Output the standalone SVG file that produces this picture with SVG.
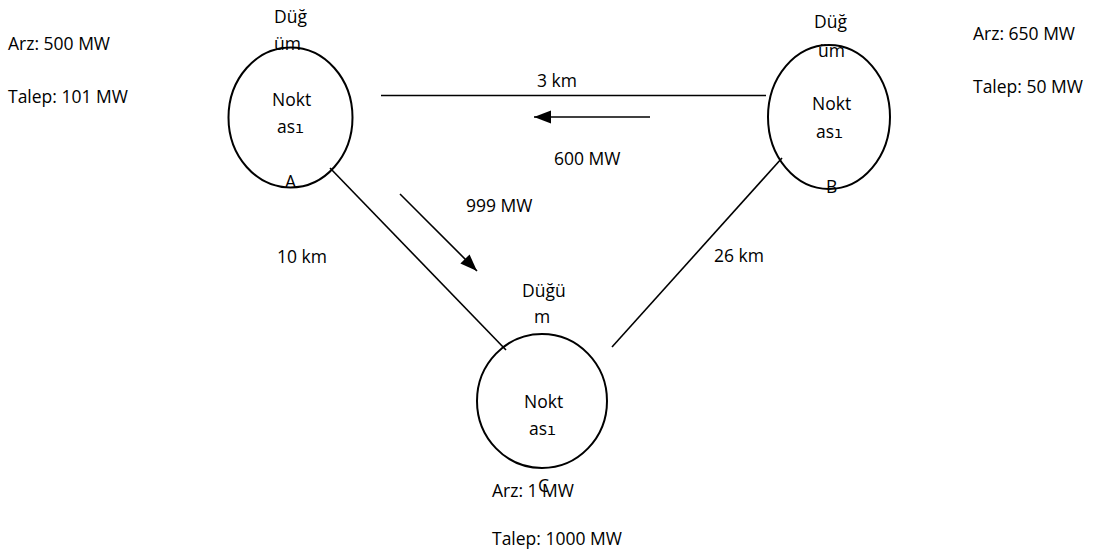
<svg xmlns="http://www.w3.org/2000/svg" width="1093" height="554" viewBox="0 0 1093 554">
<style>
text{font-family:"Open Sans","Liberation Sans",sans-serif;font-size:17.5px;fill:#000}
.m{font-family:"DejaVu Sans Mono",monospace;font-size:15px}
.node ellipse{fill:none;stroke:#000;stroke-width:2}
.edge{stroke:#000;stroke-width:1.6;fill:none}
</style>
<defs>
<marker id="ah" markerUnits="userSpaceOnUse" markerWidth="18" markerHeight="14" refX="17" refY="6.5" orient="auto">
<path d="M0,0 L17,6.5 L0,13 Z" fill="#000"/>
</marker>
</defs>
<rect width="1093" height="554" fill="#fff"/>
<g id="connectors">
<line class="edge" x1="381" y1="95.5" x2="766" y2="95.5"/>
<line class="edge" x1="330" y1="168" x2="506" y2="350"/>
<line class="edge" x1="782" y1="158" x2="612" y2="347"/>
<line class="edge" x1="650" y1="117" x2="534" y2="117" marker-end="url(#ah)"/>
<line class="edge" x1="400" y1="194" x2="477" y2="271" marker-end="url(#ah)"/>
</g>
<g id="labels">
<text x="537" y="87">3 km</text>
<text x="554" y="165">600 MW</text>
<text x="466" y="212">999 MW</text>
<text x="277" y="263">10 km</text>
<text x="714" y="262">26 km</text>
<text x="8" y="50">Arz: 500 MW</text>
<text x="8" y="103">Talep: 101 MW</text>
<text x="973" y="40">Arz: 650 MW</text>
<text x="973" y="93">Talep: 50 MW</text>
<text x="492" y="497">Arz: 1 MW</text>
<text x="492" y="545">Talep: 1000 MW</text>
</g>
<g id="node-A" class="node">
<ellipse cx="290.5" cy="117.5" rx="62" ry="70"/>
<text x="274" y="23">Düğ</text>
<text x="274" y="50">üm</text>
<text x="272" y="106">Nokt</text>
<text x="277" y="133">as<tspan class="m">ı</tspan></text>
<text x="285" y="188">A</text>
</g>
<g id="node-B" class="node">
<ellipse cx="829" cy="117" rx="61" ry="72"/>
<text x="814" y="28">Düğ</text>
<text x="818" y="57">üm</text>
<text x="812" y="110">Nokt</text>
<text x="816" y="138">as<tspan class="m">ı</tspan></text>
<text x="826" y="193">B</text>
</g>
<g id="node-C" class="node">
<ellipse cx="542" cy="401" rx="65" ry="67"/>
<text x="522" y="297">Düğü</text>
<text x="534" y="323">m</text>
<text x="524" y="408">Nokt</text>
<text x="529" y="435">as<tspan class="m">ı</tspan></text>
<text x="538" y="492">C</text>
</g>
</svg>
